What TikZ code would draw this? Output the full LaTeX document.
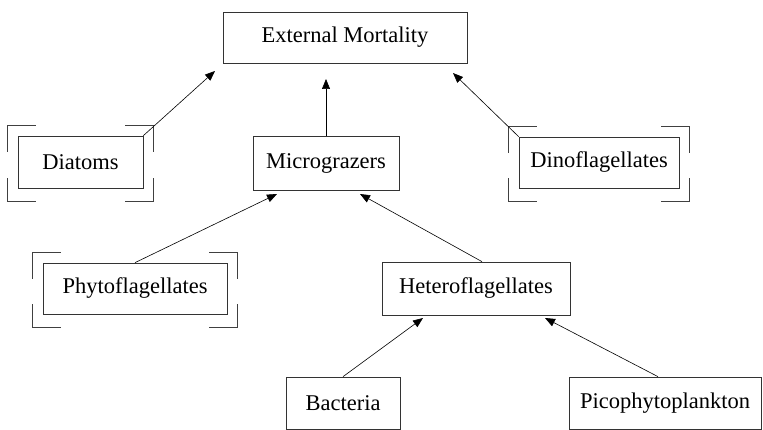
\documentclass[tikz,border=0pt]{standalone}
\usepackage{fontspec}
\setmainfont{Liberation Serif}
\usetikzlibrary{arrows.meta}

\tikzset{
  box/.style={draw=black!80,line width=0.7pt,inner sep=0pt,
    minimum height=51,font=\fontsize{22.5}{27}\selectfont},
  bracket/.style={draw=black!75,line width=0.7pt},
  link/.style={line width=0.6pt,-{Triangle[length=10pt,width=8pt]}}
}
% corner marks round a node
\newcommand{\bracketbox}[1]{%
  \draw[bracket] ([shift={(-10,16)}]#1.north west) -- ++(0,-26) -- ++(28,0);
  \draw[bracket] ([shift={(-18,-10)}]#1.north east) -- ++(28,0) -- ++(0,26);
  \draw[bracket] ([shift={(-10,-10)}]#1.south west) -- ++(0,23) -- ++(28,0);
  \draw[bracket] ([shift={(-18,13)}]#1.south east) -- ++(28,0) -- ++(0,-23);
}

\begin{document}
\begin{tikzpicture}[x=1pt,y=-1pt]
  \useasboundingbox (0,0) rectangle (763,430);

  \node[box,minimum width=244] (ext) at (345,37.5) {External Mortality};
  \node[box,minimum width=125,minimum height=52] (diat) at (80.5,162) {Diatoms};
  \node[box,minimum width=146,minimum height=54] (micro) at (326,163) {Micrograzers};
  \node[box,minimum width=160] (dino) at (599,162.5) {Dinoflagellates};
  \node[box,minimum width=184] (phyto) at (135,288.5) {Phytoflagellates};
  \node[box,minimum width=188,minimum height=53] (hetero) at (476,288.5) {Heteroflagellates};
  \node[box,minimum width=114,minimum height=52] (bact) at (343,403) {Bacteria};
  \node[box,minimum width=192,minimum height=52] (pico) at (665,403) {Picophytoplankton};

  \bracketbox{diat}
  \bracketbox{dino}
  \bracketbox{phyto}

  % arrow tips stop short of the boxes
  \coordinate (emD) at (215,71);
  \coordinate (emM) at (326,79);
  \coordinate (emF) at (453,73);
  \coordinate (miP) at (277,194);
  \coordinate (miH) at (360,194);
  \coordinate (heB) at (423,318);
  \coordinate (heP) at (545,318);

  \draw[link] (diat.north east) -- (emD);
  \draw[link] (micro.north) -- (emM);
  \draw[link] (dino.north west) -- (emF);
  \draw[link] (phyto.north) -- (miP);
  \draw[link] ([xshift=6]hetero.north) -- (miH);
  \draw[link] (bact.north) -- (heB);
  \draw[link] ([xshift=-7]pico.north) -- (heP);
\end{tikzpicture}
\end{document}
